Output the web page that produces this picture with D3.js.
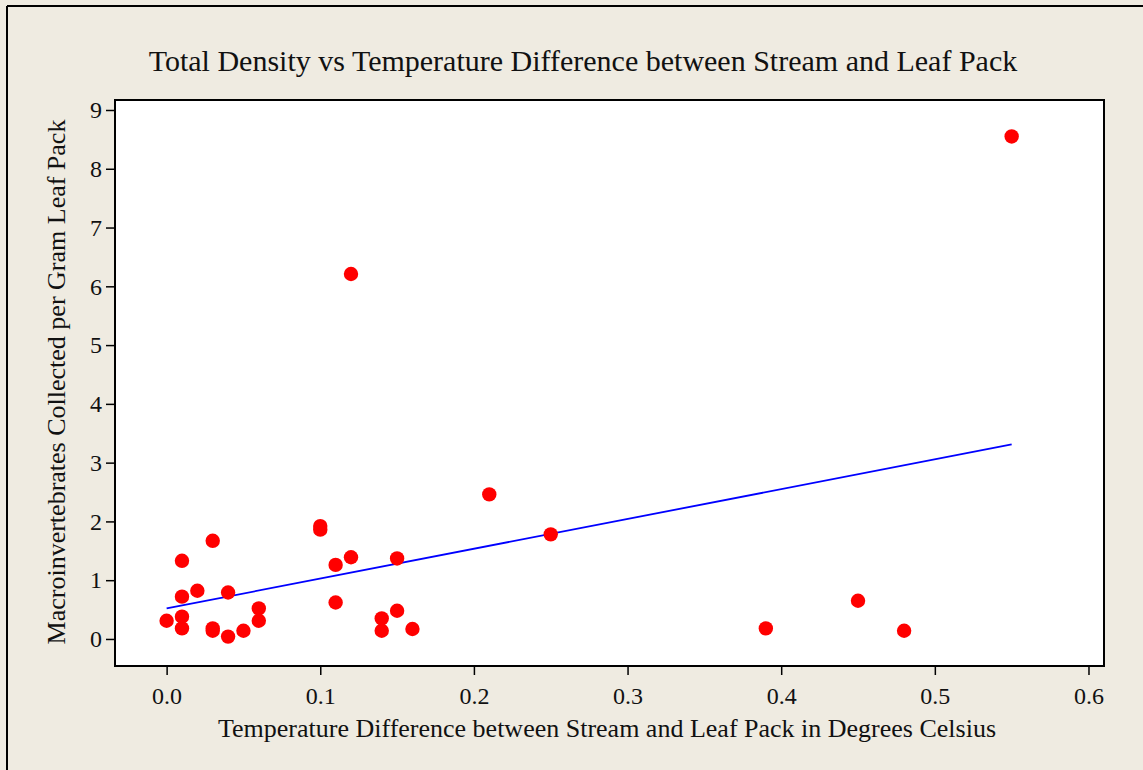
<!DOCTYPE html>
<html>
<head>
<meta charset="utf-8">
<script src="https://cdn.jsdelivr.net/npm/d3@7"></script>
<style>
  html, body { margin: 0; padding: 0; background: #EFEBE1; }
  svg { display: block; }
  text { font-family: "Liberation Serif", "Times New Roman", serif; fill: #111; }
</style>
</head>
<body>
<svg id="chart" width="1143" height="770"></svg>
<script>
// ---- data ----
const tempDiff = [0.00, 0.01, 0.01, 0.01, 0.01, 0.02, 0.03, 0.03, 0.03, 0.04, 0.04, 0.05, 0.06, 0.06,
                  0.10, 0.10, 0.11, 0.11, 0.12, 0.12, 0.14, 0.14, 0.15, 0.15, 0.16,
                  0.21, 0.25, 0.39, 0.45, 0.48, 0.55];
const density  = [0.31, 1.33, 0.72, 0.38, 0.18, 0.82, 1.67, 0.18, 0.14, 0.79, 0.04, 0.14, 0.52, 0.31,
                  1.92, 1.86, 1.26, 0.62, 1.39, 6.21, 0.35, 0.14, 1.37, 0.48, 0.17,
                  2.46, 1.78, 0.18, 0.65, 0.14, 8.55];
const fitX = [0.00, 0.55];
const fitY = [0.52, 3.31];
const xTicks = [0.0, 0.1, 0.2, 0.3, 0.4, 0.5, 0.6];
const yTicks = [0, 1, 2, 3, 4, 5, 6, 7, 8, 9];
const titleText = "Total Density vs Temperature Difference between Stream and Leaf Pack";
const xLabel = "Temperature Difference between Stream and Leaf Pack in Degrees Celsius";
const yLabel = "Macroinvertebrates Collected per Gram Leaf Pack";

// ---- layout ----
const svg = d3.select("#chart");
const W = 1143, H = 770;
const plot = { left: 115, top: 100, right: 1104, bottom: 666 };

svg.append("rect").attr("x", 0).attr("y", 0).attr("width", W).attr("height", H).attr("fill", "#EFEBE1");
// outer frame (left and top edges visible)
svg.append("line").attr("x1", 7).attr("y1", 6).attr("x2", W).attr("y2", 6).attr("stroke", "#000").attr("stroke-width", 2);
svg.append("line").attr("x1", 7).attr("y1", 6).attr("x2", 7).attr("y2", H).attr("stroke", "#000").attr("stroke-width", 2);

const x = d3.scaleLinear().domain([-0.0336, 0.6101]).range([plot.left, plot.right]);
const y = d3.scaleLinear().domain([-0.46, 9.17]).range([plot.bottom, plot.top]);

svg.append("rect")
  .attr("x", plot.left).attr("y", plot.top)
  .attr("width", plot.right - plot.left).attr("height", plot.bottom - plot.top)
  .attr("fill", "#fff").attr("stroke", "#000").attr("stroke-width", 2);

// axes
const xAxis = svg.append("g").attr("transform", `translate(0,${plot.bottom})`)
  .call(d3.axisBottom(x).tickValues(xTicks).tickFormat(d3.format(".1f")).tickSize(9).tickPadding(12));
const yAxis = svg.append("g").attr("transform", `translate(${plot.left},0)`)
  .call(d3.axisLeft(y).tickValues(yTicks).tickFormat(d3.format("d")).tickSize(9).tickPadding(4));
[xAxis, yAxis].forEach(g => {
  g.select(".domain").remove();
  g.selectAll(".tick line").attr("stroke", "#000").attr("stroke-width", 1.5);
  g.selectAll(".tick text").attr("font-size", 24).attr("font-family", "Liberation Serif").attr("fill", "#111");
});

// fit line
svg.append("line")
  .attr("x1", x(fitX[0])).attr("y1", y(fitY[0]))
  .attr("x2", x(fitX[1])).attr("y2", y(fitY[1]))
  .attr("stroke", "#0000FF").attr("stroke-width", 1.8);

// points
svg.append("g").selectAll("circle")
  .data(tempDiff.map((d, i) => [d, density[i]]))
  .join("circle")
  .attr("cx", d => x(d[0])).attr("cy", d => y(d[1]))
  .attr("r", 7.2).attr("fill", "#FF0000");

// texts
svg.append("text").attr("x", 583).attr("y", 71).attr("text-anchor", "middle")
  .attr("font-size", 30).text(titleText);
svg.append("text").attr("x", 607).attr("y", 737).attr("text-anchor", "middle")
  .attr("font-size", 26).text(xLabel);
svg.append("text").attr("transform", "translate(65,382) rotate(-90)").attr("text-anchor", "middle")
  .attr("font-size", 26).text(yLabel);
</script>
</body>
</html>
